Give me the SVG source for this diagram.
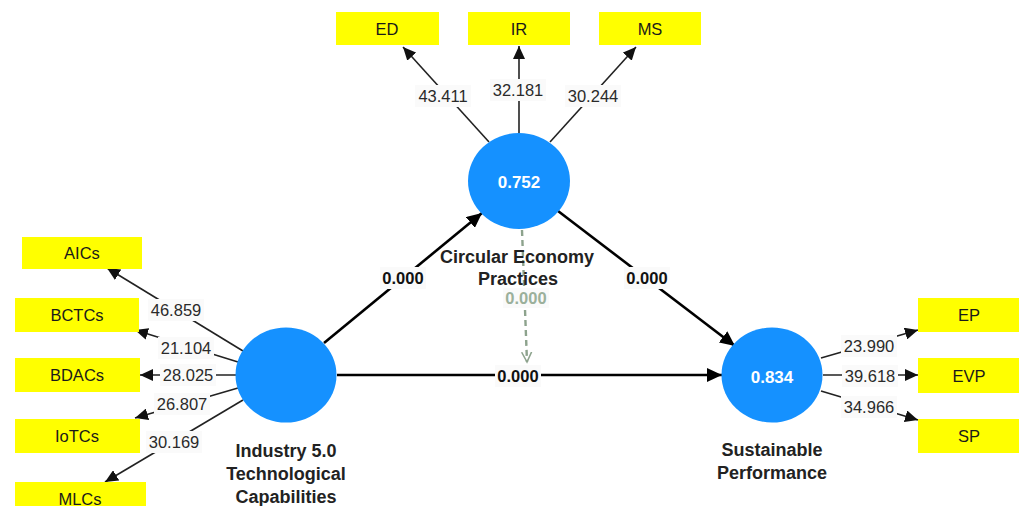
<svg xmlns="http://www.w3.org/2000/svg" width="1020" height="506" viewBox="0 0 1020 506">
<defs>
<style>
.box{fill:#ffff00;}
.bt{font-family:"Liberation Sans",Arial,sans-serif;font-size:16.5px;fill:#1a1a1a;text-anchor:middle;dominant-baseline:central;}
.lv{fill:#1591ff;}
.lvt{font-family:"Liberation Sans",Arial,sans-serif;font-size:17px;font-weight:bold;fill:#ffffff;text-anchor:middle;dominant-baseline:central;}
.name{font-family:"Liberation Sans",Arial,sans-serif;font-size:18px;font-weight:bold;fill:#222;text-anchor:middle;}
.ml{stroke:#222;stroke-width:1.6;fill:none;}
.sl{stroke:#000;stroke-width:2.6;fill:none;}
.dl{stroke:#8da38d;stroke-width:2.4;stroke-dasharray:6,4;fill:none;}
.lbg{fill:#fafafa;}
.lt{font-family:"Liberation Sans",Arial,sans-serif;font-size:16.5px;fill:#2a2a2a;text-anchor:middle;dominant-baseline:central;}
.st{font-family:"Liberation Sans",Arial,sans-serif;font-size:16.5px;font-weight:bold;fill:#111;text-anchor:middle;dominant-baseline:central;}
.dt{font-family:"Liberation Sans",Arial,sans-serif;font-size:16.5px;font-weight:bold;fill:#9bb09b;text-anchor:middle;dominant-baseline:central;}
</style>
<marker id="ah" markerUnits="userSpaceOnUse" markerWidth="14" markerHeight="12" refX="13" refY="6" orient="auto">
<path d="M0,0 L13,6 L0,12 Z" fill="#111"/>
</marker>
<marker id="ahs" markerUnits="userSpaceOnUse" markerWidth="16" markerHeight="14" refX="15" refY="7" orient="auto">
<path d="M0,0 L15,7 L0,14 Z" fill="#000"/>
</marker>
<marker id="aho" markerUnits="userSpaceOnUse" markerWidth="12" markerHeight="12" refX="10" refY="6" orient="auto">
<path d="M0,1 L10,6 L0,11" fill="none" stroke="#8da38d" stroke-width="1.5"/>
</marker>
</defs>
<rect width="1020" height="506" fill="#ffffff"/>

<g id="connectors">
<line class="ml" x1="243" y1="351" x2="107" y2="268" marker-end="url(#ah)"/>
<line class="ml" x1="238" y1="362" x2="135" y2="330" marker-end="url(#ah)"/>
<line class="ml" x1="236" y1="375" x2="140" y2="375" marker-end="url(#ah)"/>
<line class="ml" x1="238" y1="388" x2="135" y2="418" marker-end="url(#ah)"/>
<line class="ml" x1="243" y1="400" x2="105" y2="482" marker-end="url(#ah)"/>
<line class="ml" x1="489" y1="142" x2="403" y2="47" marker-end="url(#ah)"/>
<line class="ml" x1="519" y1="133" x2="519" y2="46" marker-end="url(#ah)"/>
<line class="ml" x1="550" y1="142" x2="636" y2="47" marker-end="url(#ah)"/>
<line class="ml" x1="821" y1="358" x2="918" y2="330" marker-end="url(#ah)"/>
<line class="ml" x1="823" y1="375" x2="918" y2="375" marker-end="url(#ah)"/>
<line class="ml" x1="821" y1="391" x2="918" y2="420" marker-end="url(#ah)"/>
<line class="sl" x1="324" y1="343" x2="482" y2="213" marker-end="url(#ahs)"/>
<line class="sl" x1="558" y1="211" x2="735" y2="346" marker-end="url(#ahs)"/>
<line class="sl" x1="337" y1="375" x2="722" y2="375" marker-end="url(#ahs)"/>
<line class="dl" x1="522" y1="230" x2="527" y2="362" marker-end="url(#aho)"/>

<rect class="lbg" x="148" y="299" width="56" height="22"/><text class="lt" x="176" y="310">46.859</text>
<rect class="lbg" x="158" y="337" width="56" height="22"/><text class="lt" x="186" y="348">21.104</text>
<rect class="lbg" x="160" y="364" width="56" height="22"/><text class="lt" x="188" y="375">28.025</text>
<rect class="lbg" x="154" y="393" width="56" height="22"/><text class="lt" x="182" y="404">26.807</text>
<rect class="lbg" x="146" y="431" width="56" height="22"/><text class="lt" x="174" y="442">30.169</text>
<rect class="lbg" x="415" y="85" width="56" height="22"/><text class="lt" x="443" y="96">43.411</text>
<rect class="lbg" x="490" y="79" width="56" height="22"/><text class="lt" x="518" y="90">32.181</text>
<rect class="lbg" x="565" y="85" width="56" height="22"/><text class="lt" x="593" y="96">30.244</text>
<rect class="lbg" x="841" y="335" width="56" height="22"/><text class="lt" x="869" y="346">23.990</text>
<rect class="lbg" x="842" y="365" width="56" height="22"/><text class="lt" x="870" y="376">39.618</text>
<rect class="lbg" x="841" y="396" width="56" height="22"/><text class="lt" x="869" y="407">34.966</text>
<rect class="lbg" x="380" y="267" width="46" height="22"/><text class="st" x="403" y="278">0.000</text>
<rect class="lbg" x="624" y="267" width="46" height="22"/><text class="st" x="647" y="278">0.000</text>
<rect class="lbg" x="495" y="365" width="46" height="22"/><text class="st" x="518" y="376">0.000</text>
<rect class="lbg" x="503" y="288" width="46" height="20"/><text class="dt" x="526" y="298">0.000</text>
</g>

<g id="AICs"><rect class="box" x="22" y="237" width="120" height="32"/><text class="bt" x="82" y="253">AICs</text></g>
<g id="BCTCs"><rect class="box" x="15" y="298" width="124" height="34"/><text class="bt" x="77" y="315">BCTCs</text></g>
<g id="BDACs"><rect class="box" x="15" y="358" width="125" height="34"/><text class="bt" x="77" y="375">BDACs</text></g>
<g id="IoTCs"><rect class="box" x="15" y="419" width="125" height="34"/><text class="bt" x="77" y="436">IoTCs</text></g>
<g id="MLCs"><rect class="box" x="15" y="482" width="131" height="34"/><text class="bt" x="80" y="499">MLCs</text></g>

<g id="ED"><rect class="box" x="336" y="12" width="103" height="33"/><text class="bt" x="387" y="28.5">ED</text></g>
<g id="IR"><rect class="box" x="468" y="12" width="102" height="33"/><text class="bt" x="519" y="28.5">IR</text></g>
<g id="MS"><rect class="box" x="599" y="12" width="102" height="33"/><text class="bt" x="650" y="28.5">MS</text></g>

<g id="EP"><rect class="box" x="918" y="298" width="101" height="34"/><text class="bt" x="969" y="315">EP</text></g>
<g id="EVP"><rect class="box" x="918" y="358" width="101" height="35"/><text class="bt" x="969" y="375.5">EVP</text></g>
<g id="SP"><rect class="box" x="918" y="419" width="101" height="34"/><text class="bt" x="969" y="436">SP</text></g>

<g id="Industry">
<ellipse class="lv" cx="286" cy="375" rx="50.5" ry="47.5"/>
<text class="name" x="286" y="457">Industry 5.0</text>
<text class="name" x="286" y="480">Technological</text>
<text class="name" x="286" y="503">Capabilities</text>
</g>
<g id="CEP">
<ellipse class="lv" cx="519" cy="181" rx="51" ry="48"/>
<text class="lvt" x="519" y="182">0.752</text>
<text class="name" x="517" y="263">Circular Economy</text>
<text class="name" x="518" y="285">Practices</text>
</g>
<g id="SPerf">
<ellipse class="lv" cx="772" cy="375" rx="50.5" ry="47.5"/>
<text class="lvt" x="772" y="377">0.834</text>
<text class="name" x="772" y="456">Sustainable</text>
<text class="name" x="772" y="479">Performance</text>
</g>
</svg>
